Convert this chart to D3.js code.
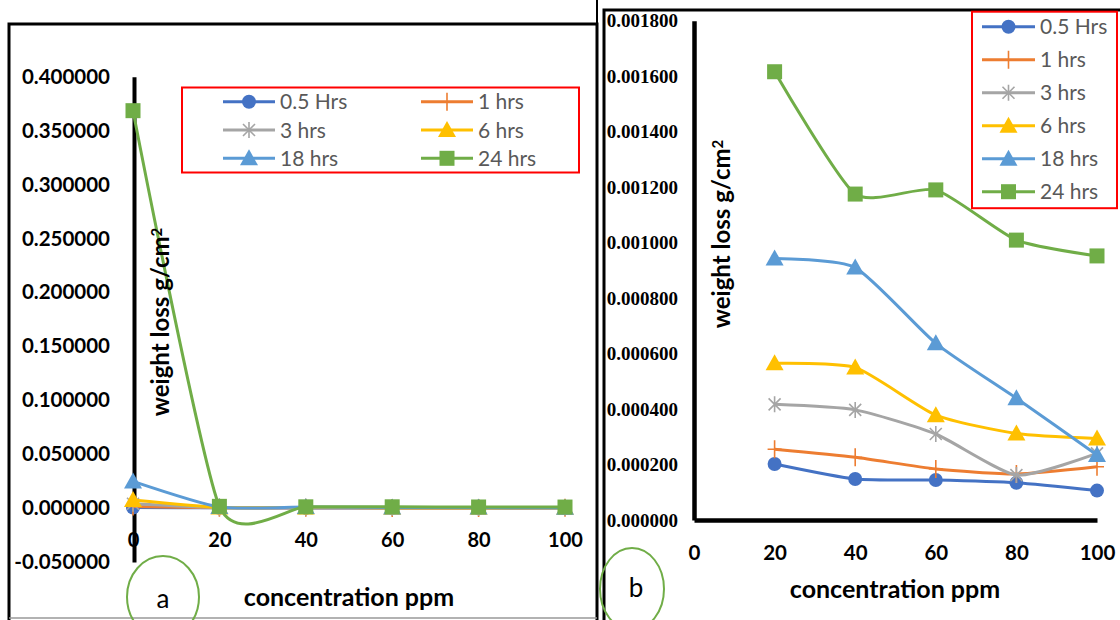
<!DOCTYPE html>
<html>
<head>
<meta charset="utf-8">
<script src="https://cdn.jsdelivr.net/npm/d3@7"></script>
<style>
  body{margin:0;background:#fff;}
  svg{display:block;}
</style>
</head>
<body>
<svg id="chart" width="1120" height="620"></svg>
<script>
// data
const concentration = [0, 20, 40, 60, 80, 100]
const seriesNames = ["0.5 Hrs", "1 hrs", "3 hrs", "6 hrs", "18 hrs", "24 hrs"]
const hrs05 = [0.0005, 0.000202, 0.000148, 0.000144, 0.000134, 0.000106]
const hrs1  = [0.0015, 0.000255, 0.000226, 0.000184, 0.000166, 0.000192]
const hrs3  = [0.004, 0.000417, 0.000397, 0.000310, 0.000162, 0.000240]
const hrs6  = [0.0075, 0.000565, 0.000550, 0.000378, 0.000312, 0.000294]
const hrs18 = [0.0247, 0.000943, 0.000910, 0.000637, 0.000439, 0.000234]
const hrs24 = [0.3685, 0.001616, 0.001175, 0.001190, 0.001009, 0.000952]
const ticksA = [-0.05, 0, 0.05, 0.1, 0.15, 0.2, 0.25, 0.3, 0.35, 0.4]
const ticksB = [0, 0.0002, 0.0004, 0.0006, 0.0008, 0.001, 0.0012, 0.0014, 0.0016, 0.0018]
const xTicks = [0, 20, 40, 60, 80, 100]

const colors = ["#4472C4", "#ED7D31", "#A5A5A5", "#FFC000", "#5B9BD5", "#70AD47"]
const markers = ["circle", "plus", "star", "triangle", "triangle", "square"]
const allSeries = [hrs05, hrs1, hrs3, hrs6, hrs18, hrs24]

// excel style number labels, plain hyphen for negatives
const fmt6 = d => d3.format(".6f")(d).replace("\u2212", "-")

const svg = d3.select("#chart")
svg.append("rect").attr("width", 1120).attr("height", 620).attr("fill", "#fff")

function drawMarker(g, type, color, x, y){
  if(type == "circle"){
    g.append("circle").attr("cx", x).attr("cy", y).attr("r", 7).attr("fill", color)
  } else if(type == "square"){
    g.append("rect").attr("x", x-7.5).attr("y", y-7.5).attr("width", 15).attr("height", 15).attr("fill", color)
  } else if(type == "triangle"){
    g.append("path").attr("d", `M${x},${y-9}L${x+9},${y+7}L${x-9},${y+7}Z`).attr("fill", color)
  } else if(type == "plus"){
    g.append("path").attr("d", `M${x-7},${y}H${x+7}M${x},${y-9}V${y+9}`)
      .attr("stroke", color).attr("stroke-width", 1.6).attr("fill", "none")
  } else if(type == "star"){
    g.append("path").attr("d", `M${x-6},${y-6}L${x+6},${y+6}M${x-6},${y+6}L${x+6},${y-6}M${x},${y-8}V${y+8}`)
      .attr("stroke", color).attr("stroke-width", 1.6).attr("fill", "none")
  }
}

function drawSeries(g, xs, ys, xVals, start){
  allSeries.forEach(function(vals, i){
    let pts = xVals.map((c, k) => [xs(c), ys(vals[k + start])])
    let line = d3.line().curve(d3.curveCardinal.tension(0.4))
    g.append("path").attr("d", line(pts))
      .attr("fill", "none").attr("stroke", colors[i]).attr("stroke-width", 3)
    pts.forEach(p => drawMarker(g, markers[i], colors[i], p[0], p[1]))
  })
}

function legendItem(g, i, x1, x2, y, tx){
  g.append("line").attr("x1", x1).attr("x2", x2).attr("y1", y).attr("y2", y)
    .attr("stroke", colors[i]).attr("stroke-width", 3)
  drawMarker(g, markers[i], colors[i], (x1 + x2) / 2, y)
  g.append("text").attr("x", tx).attr("y", y).attr("dy", "0.36em")
    .text(seriesNames[i])
    .style("font-family", "Lato").style("font-size", "21px").attr("fill", "#595959")
}

// ---------- panel a ----------
const xA = d3.scaleLinear().domain([0, 100]).range([133, 565])
const yA = d3.scaleLinear().domain([-0.05, 0.4]).range([562, 76.7])

// frame
svg.append("path").attr("d", "M9,620V24H597V620").attr("fill", "none").attr("stroke", "#000").attr("stroke-width", 3)
svg.append("line").attr("x1", 597).attr("x2", 597).attr("y1", 0).attr("y2", 24).attr("stroke", "#000").attr("stroke-width", 2)
svg.append("line").attr("x1", 9).attr("x2", 597).attr("y1", 618).attr("y2", 618).attr("stroke", "#999").attr("stroke-width", 1.5)

let gA = svg.append("g")
let yAxisA = gA.append("g").attr("transform", "translate(134,0)")
  .call(d3.axisLeft(yA).tickValues(ticksA).tickSize(0).tickPadding(24).tickFormat(fmt6))
yAxisA.select(".domain").attr("stroke", "#000").attr("stroke-width", 4)
yAxisA.selectAll("text").style("font-family", "Lato").style("font-size", "20.5px").style("font-weight", "bold").attr("fill", "#000")

let xAxisA = gA.append("g").attr("transform", "translate(0,533)")
  .call(d3.axisBottom(xA).tickValues(xTicks).tickSize(0).tickPadding(0))
xAxisA.select(".domain").remove()
xAxisA.selectAll("text").style("font-family", "Lato").style("font-size", "20px").style("font-weight", "bold").attr("fill", "#000")

drawSeries(gA, xA, yA, concentration, 0)

gA.append("text").attr("transform", "translate(169,322) rotate(-90)")
  .attr("text-anchor", "middle")
  .style("font-family", "Lato").style("font-size", "24px").style("font-weight", "bold")
  .text("weight loss g/cm").append("tspan").attr("dy", "-0.45em").style("font-size", "15px").text("2")
gA.append("text").attr("x", 349).attr("y", 606).attr("text-anchor", "middle")
  .style("font-family", "Lato").style("font-size", "25px").style("font-weight", "bold")
  .text("concentration ppm")

// legend a
let legA = svg.append("g")
legA.append("rect").attr("x", 182).attr("y", 87.5).attr("width", 397).attr("height", 85)
  .attr("fill", "none").attr("stroke", "#FF0000").attr("stroke-width", 2)
seriesNames.forEach(function(n, i){
  let row = Math.floor(i / 2), col = i % 2
  let y = 101.7 + row * 28.3
  if(col == 0) legendItem(legA, i, 223, 275, y, 280)
  else legendItem(legA, i, 421, 473, y, 478)
})

svg.append("ellipse").attr("cx", 163).attr("cy", 597).attr("rx", 36).attr("ry", 41)
  .attr("fill", "none").attr("stroke", "#70AD47").attr("stroke-width", 2)
svg.append("text").attr("x", 163).attr("y", 599).attr("dy", "0.35em").attr("text-anchor", "middle")
  .style("font-family", "Lato").style("font-size", "26px").text("a")

// ---------- panel b ----------
const xB = d3.scaleLinear().domain([0, 100]).range([694, 1097])
const yB = d3.scaleLinear().domain([0, 0.0018]).range([520, 20.7])

svg.append("path").attr("d", "M604,620V10H1120").attr("fill", "none").attr("stroke", "#000").attr("stroke-width", 3)

let gB = svg.append("g")
let yAxisB = gB.append("g").attr("transform", "translate(694,0)")
  .call(d3.axisLeft(yB).tickValues(ticksB).tickSize(0).tickPadding(16).tickFormat(fmt6))
yAxisB.select(".domain").attr("stroke", "#000").attr("stroke-width", 4.5)
yAxisB.selectAll("text").style("font-family", "Liberation Serif").style("font-size", "19px").style("font-weight", "bold").attr("fill", "#000")

let xAxisB = gB.append("g").attr("transform", "translate(0,520)")
  .call(d3.axisBottom(xB).tickValues(xTicks).tickSize(0).tickPadding(25))
xAxisB.select(".domain").attr("stroke", "#000").attr("stroke-width", 4.5)
xAxisB.selectAll("text").style("font-family", "Lato").style("font-size", "20.5px").style("font-weight", "bold").attr("fill", "#000")

drawSeries(gB, xB, yB, concentration.slice(1), 1)

gB.append("text").attr("transform", "translate(730,234) rotate(-90)")
  .attr("text-anchor", "middle")
  .style("font-family", "Lato").style("font-size", "24px").style("font-weight", "bold")
  .text("weight loss g/cm").append("tspan").attr("dy", "-0.45em").style("font-size", "15px").text("2")
gB.append("text").attr("x", 895).attr("y", 598).attr("text-anchor", "middle")
  .style("font-family", "Lato").style("font-size", "25px").style("font-weight", "bold")
  .text("concentration ppm")

// legend b
let legB = svg.append("g")
legB.append("rect").attr("x", 972).attr("y", 11.7).attr("width", 145).attr("height", 196.5)
  .attr("fill", "#fff").attr("stroke", "#FF0000").attr("stroke-width", 2)
seriesNames.forEach(function(n, i){
  legendItem(legB, i, 982, 1035, 26.7 + i * 33, 1040)
})

svg.append("ellipse").attr("cx", 632).attr("cy", 589).attr("rx", 32).attr("ry", 41)
  .attr("fill", "none").attr("stroke", "#70AD47").attr("stroke-width", 2)
svg.append("text").attr("x", 636).attr("y", 588).attr("dy", "0.35em").attr("text-anchor", "middle")
  .style("font-family", "Lato").style("font-size", "26px").text("b")
</script>
</body>
</html>
